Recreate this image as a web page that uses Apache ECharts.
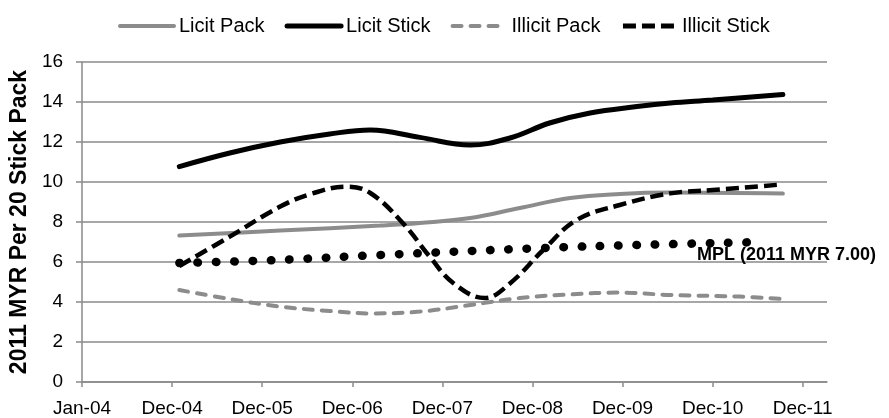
<!DOCTYPE html>
<html>
<head>
<meta charset="utf-8">
<script src="https://cdn.jsdelivr.net/npm/echarts@6/dist/echarts.min.js"></script>
<style>
  html, body { margin: 0; padding: 0; background: #fff; }
  #chart { width: 889px; height: 418px; }
</style>
</head>
<body>
<div id="chart"></div>
<script>
// x positions are in tick units: 0 = Jan-04, 1 = Dec-04, ... 8 = Dec-11
const xLabels = ['Jan-04', 'Dec-04', 'Dec-05', 'Dec-06', 'Dec-07', 'Dec-08', 'Dec-09', 'Dec-10', 'Dec-11'];
const xTicks = [0, 1, 2, 3, 4, 5, 6, 7, 8];

const licitPack = [
  [1.08, 7.32], [2.2, 7.57], [3.31, 7.82], [3.75, 7.95], [4.31, 8.2], [4.86, 8.7],
  [5.42, 9.2], [5.97, 9.4], [6.53, 9.47], [7.78, 9.42]
];
const licitStick = [
  [1.08, 10.77], [1.64, 11.45], [2.2, 12.0], [2.75, 12.4], [3.2, 12.6], [3.75, 12.23],
  [4.31, 11.85], [4.75, 12.2], [5.19, 12.95], [5.64, 13.45], [6.16, 13.77], [6.53, 13.95],
  [7.0, 14.1], [7.78, 14.38]
];
const illicitPack = [
  [1.08, 4.6], [1.64, 4.15], [2.2, 3.77], [2.75, 3.55], [3.2, 3.43], [3.75, 3.52],
  [4.31, 3.85], [4.86, 4.2], [5.42, 4.38], [5.97, 4.47], [6.53, 4.35], [7.3, 4.27], [7.78, 4.15]
];
const illicitStick = [
  [1.08, 5.8], [1.64, 7.27], [2.2, 8.77], [2.56, 9.43], [2.94, 9.77], [3.2, 9.45],
  [3.56, 7.95], [3.86, 6.27], [4.12, 4.95], [4.47, 4.2], [4.75, 4.93], [5.12, 6.6],
  [5.49, 8.1], [5.97, 8.85], [6.53, 9.43], [7.0, 9.6], [7.78, 9.88]
];
const mpl = [
  [1.08, 5.95], [1.87, 6.05], [2.42, 6.15], [3.31, 6.35], [5.12, 6.7], [6.16, 6.85], [7.57, 7.0]
];
const mplLabel = 'MPL (2011 MYR 7.00)';

const FONT = 'Liberation Sans, Arial, sans-serif';
const GRAY = '#8c8c8c';
const AXIS_GRAY = '#8a8a8a';

const chart = echarts.init(document.getElementById('chart'), null, {renderer: 'canvas'});

chart.setOption({
  animation: false,
  backgroundColor: '#fff',
  textStyle: {fontFamily: FONT, color: '#000'},
  grid: {left: 82, right: 62, top: 62, bottom: 36},
  legend: {
    data: [
      {name: 'Licit Pack', lineStyle: {width: 4}},
      {name: 'Licit Stick', lineStyle: {width: 5}},
      {name: 'Illicit Pack', lineStyle: {width: 4}},
      {name: 'Illicit Stick', lineStyle: {width: 5}}
    ],
    left: 113,
    top: 11,
    itemWidth: 54,
    itemHeight: 14,
    itemGap: 20,
    itemStyle: {opacity: 0},
    textStyle: {fontSize: 20, color: '#000', fontFamily: FONT}
  },
  xAxis: {
    type: 'value',
    min: 0,
    max: 8.27,
    splitLine: {show: false},
    axisLine: {lineStyle: {color: AXIS_GRAY, width: 1.5}},
    axisTick: {customValues: xTicks, length: 5, lineStyle: {color: AXIS_GRAY, width: 1.5}},
    axisLabel: {
      customValues: xTicks,
      fontSize: 19,
      color: '#000',
      margin: 17,
      formatter: v => xLabels[Math.round(v)]
    }
  },
  yAxis: {
    type: 'value',
    min: 0,
    max: 16,
    interval: 2,
    name: '2011 MYR Per 20 Stick Pack',
    nameLocation: 'middle',
    nameGap: 42,
    nameTextStyle: {fontSize: 23, fontWeight: 'bold', color: '#000', fontFamily: FONT},
    axisLine: {show: true, lineStyle: {color: AXIS_GRAY, width: 1.5}},
    axisTick: {show: true, length: 6, lineStyle: {color: AXIS_GRAY, width: 1.5}},
    axisLabel: {fontSize: 19, color: '#000', margin: 19},
    splitLine: {lineStyle: {color: AXIS_GRAY, width: 1.5}}
  },
  series: [
    {
      name: 'Licit Pack',
      type: 'line',
      data: licitPack,
      smooth: 0.4,
      symbol: 'none',
      color: GRAY,
      lineStyle: {color: GRAY, width: 4, cap: 'round'},
      z: 2
    },
    {
      name: 'Licit Stick',
      type: 'line',
      data: licitStick,
      smooth: 0.4,
      symbol: 'none',
      color: '#000',
      lineStyle: {color: '#000', width: 5, cap: 'round'},
      z: 3
    },
    {
      name: 'Illicit Pack',
      type: 'line',
      data: illicitPack,
      smooth: 0.4,
      symbol: 'none',
      color: GRAY,
      lineStyle: {color: GRAY, width: 4, type: [9, 9], cap: 'round'},
      z: 2
    },
    {
      name: 'Illicit Stick',
      type: 'line',
      data: illicitStick,
      smooth: 0.4,
      symbol: 'none',
      color: '#000',
      lineStyle: {color: '#000', width: 4.5, type: [13, 6], cap: 'butt'},
      z: 3
    },
    {
      name: 'MPL',
      type: 'line',
      data: mpl,
      smooth: 0.4,
      symbol: 'none',
      color: '#000',
      lineStyle: {color: '#000', width: 8.5, type: [0.5, 17.8], cap: 'round'},
      endLabel: {
        show: true,
        formatter: mplLabel,
        fontSize: 18,
        fontWeight: 'bold',
        color: '#000',
        fontFamily: FONT,
        distance: 0,
        offset: [-67, 13]
      },
      z: 4
    }
  ]
});
</script>
</body>
</html>
